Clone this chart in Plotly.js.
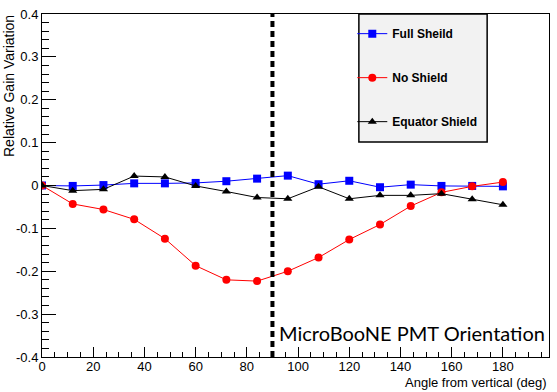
<!DOCTYPE html>
<html>
<head>
<meta charset="utf-8">
<script src="https://cdn.plot.ly/plotly-3.0.1.min.js"></script>
<style>
  html, body { margin: 0; padding: 0; background: #fff; }
  #chart { width: 557px; height: 392px; }
</style>
</head>
<body>
<div id="chart"></div>
<script>
// angles (deg) where the gain was measured
const angles = [0, 12, 24, 36, 48, 60, 72, 84, 96, 108, 120, 132, 144, 156, 168, 180];

// relative gain variation
const fullShield = [0, -0.001, 0.001, 0.005, 0.005, 0.006, 0.010, 0.016, 0.023, 0.003, 0.011, -0.004, 0.002, -0.001, -0.001, -0.002];
const noShield = [0, -0.043, -0.056, -0.079, -0.124, -0.187, -0.220, -0.223, -0.200, -0.168, -0.126, -0.091, -0.048, -0.016, -0.002, 0.008];
const equatorShield = [0, -0.012, -0.009, 0.022, 0.020, -0.001, -0.014, -0.028, -0.031, -0.003, -0.031, -0.023, -0.023, -0.019, -0.032, -0.045];

const seriesNames = ['Full Sheild', 'No Shield', 'Equator Shield'];
const xTicks = [0, 20, 40, 60, 80, 100, 120, 140, 160, 180];
const yTicks = [-0.4, -0.3, -0.2, -0.1, 0, 0.1, 0.2, 0.3, 0.4];
const yTickText = ['-0.4', '-0.3', '-0.2', '-0.1', '0', '0.1', '0.2', '0.3', '0.4'];
const markerLine = 90;

const traces = [
    {
        x: angles, y: fullShield, name: seriesNames[0], legendgroup: 'a',
        mode: 'lines+markers',
        line: { color: '#0000ff', width: 1 },
        marker: { symbol: 'square', size: 8, color: '#0000ff' }
    },
    {
        x: angles, y: noShield, name: seriesNames[1], legendgroup: 'b',
        mode: 'lines+markers',
        line: { color: '#ff0000', width: 1 },
        marker: { symbol: 'circle', size: 8, color: '#ff0000' }
    },
    {
        x: angles, y: equatorShield, name: seriesNames[2], legendgroup: 'c',
        mode: 'lines+markers',
        line: { color: '#000000', width: 1 },
        marker: { symbol: 'triangle-up', size: 8, color: '#000000' }
    }
];

const axisFont = { family: 'Liberation Sans, Arial, sans-serif', size: 13, color: '#000' };

const layout = {
    width: 557, height: 392,
    margin: { l: 42, r: 8, t: 14, b: 35 },
    paper_bgcolor: '#fff', plot_bgcolor: '#fff',
    showlegend: true,
    legend: {
        x: 0.612, y: 0.985, xanchor: 'left', yanchor: 'top',
        bgcolor: 'rgba(0,0,0,0)', borderwidth: 0,
        tracegroupgap: 25,
        font: { family: 'Liberation Sans, Arial, sans-serif', size: 12, color: '#000', weight: 'bold' }
    },
    xaxis: {
        range: [0, 198], tickvals: xTicks, ticks: 'inside', ticklen: 10, tickcolor: '#000',
        ticklabelstandoff: -3,
        minor: { dtick: 5, ticks: 'inside', ticklen: 5, tickcolor: '#000' },
        showgrid: false, zeroline: false, showline: true, linecolor: '#000', linewidth: 1, mirror: true,
        tickfont: axisFont
    },
    yaxis: {
        range: [-0.4, 0.4], tickvals: yTicks, ticktext: yTickText, ticks: 'inside', ticklen: 14, tickcolor: '#000',
        minor: { dtick: 0.02, ticks: 'inside', ticklen: 7, tickcolor: '#000' },
        showgrid: false, zeroline: false, showline: true, linecolor: '#000', linewidth: 1, mirror: true,
        tickfont: axisFont
    },
    shapes: [
        {
            type: 'line', xref: 'x', yref: 'paper', x0: markerLine, x1: markerLine, y0: 0, y1: 1,
            line: { color: '#000', width: 4, dash: '6px,4px' }
        },
        {
            type: 'rect', xref: 'paper', yref: 'paper', x0: 0.625, x1: 0.878, y0: 0.627, y1: 1,
            fillcolor: '#f2f2f2', line: { color: '#000', width: 1.5 }, layer: 'below'
        }
    ],
    annotations: [
        {
            text: 'Relative Gain Variation', xref: 'paper', yref: 'paper', x: 0, y: 1,
            xanchor: 'center', yanchor: 'top', xshift: -33, yshift: 1, textangle: -90, showarrow: false,
            font: { family: 'Liberation Sans, Arial, sans-serif', size: 14, color: '#000' }
        },
        {
            text: 'Angle from vertical (deg)', xref: 'paper', yref: 'paper', x: 1, y: 0,
            xanchor: 'right', yanchor: 'top', yshift: -16, showarrow: false,
            font: { family: 'Liberation Sans, Arial, sans-serif', size: 13, color: '#000' }
        },
        {
            text: 'MicroBooNE PMT Orientation', xref: 'paper', yref: 'paper', x: 1, y: 0.03,
            xanchor: 'right', yanchor: 'bottom', xshift: -2, showarrow: false,
            font: { family: 'Lato, sans-serif', size: 20, color: '#000' }
        }
    ]
};

Plotly.newPlot('chart', traces, layout, { displayModeBar: false, staticPlot: true });
</script>
</body>
</html>
